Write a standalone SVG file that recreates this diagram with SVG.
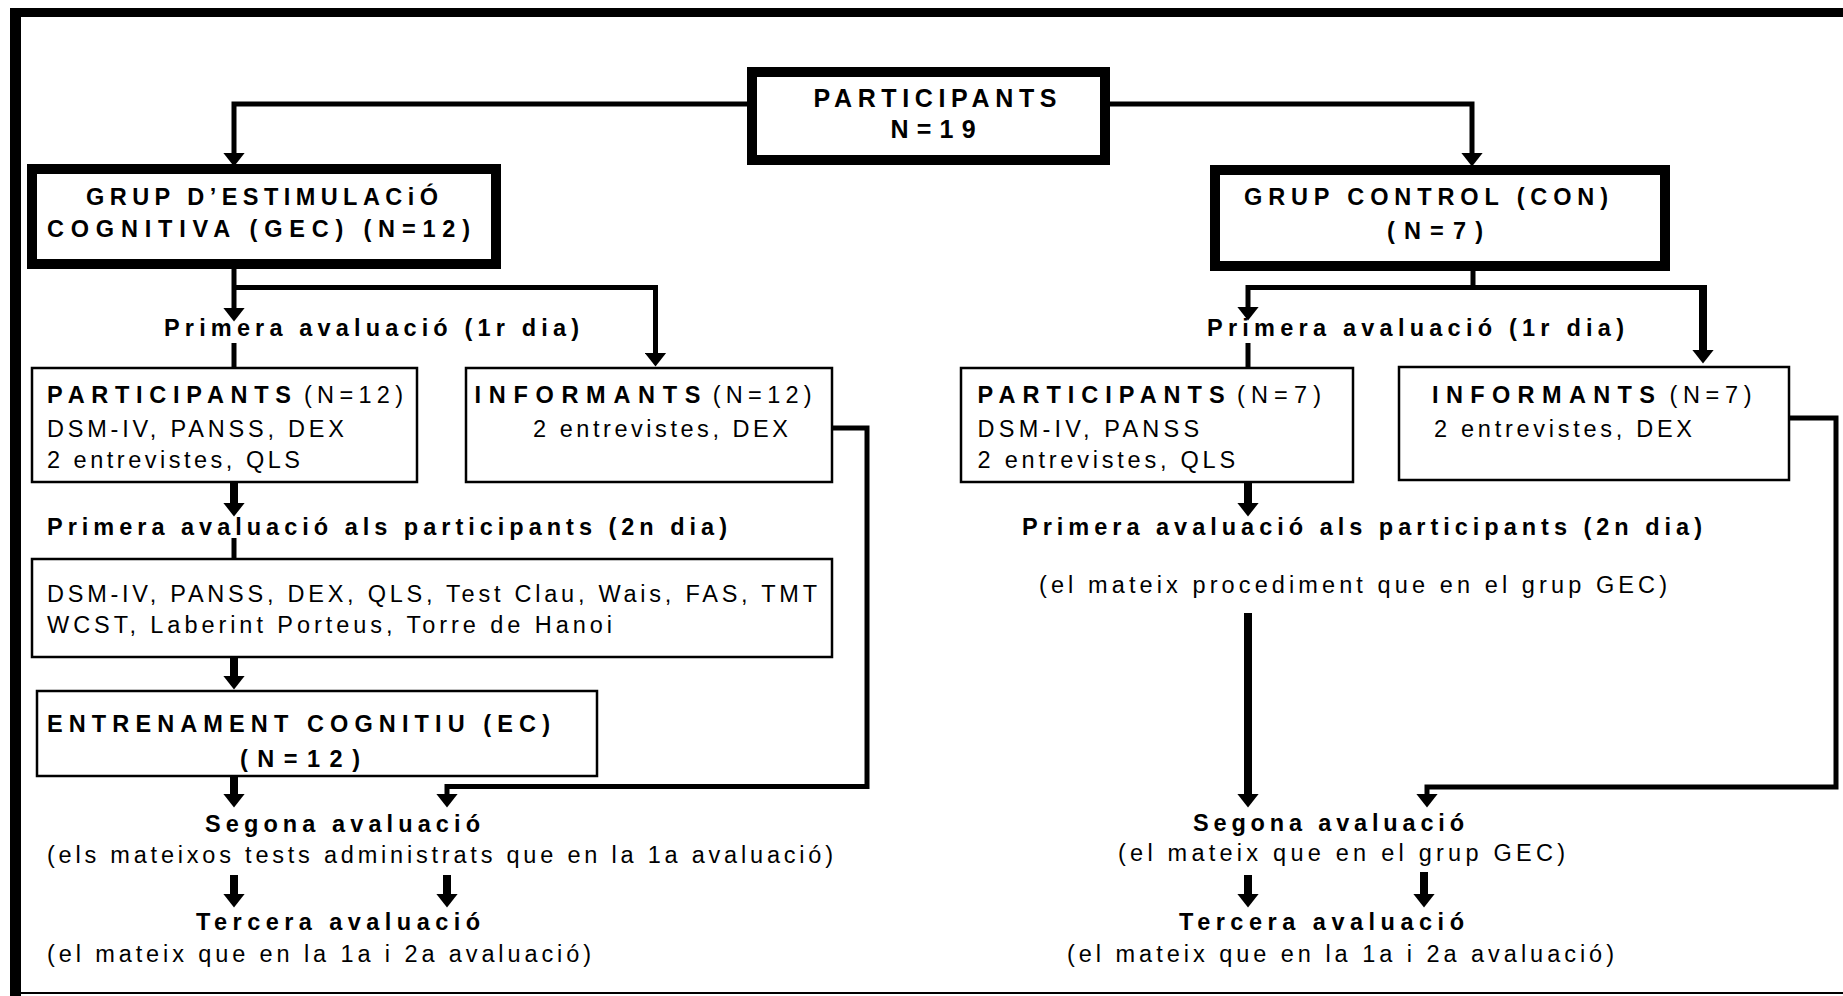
<svg xmlns="http://www.w3.org/2000/svg" width="1843" height="996" viewBox="0 0 1843 996">
<defs>
<style>
.t{font-family:"Liberation Sans",Arial,sans-serif;font-size:23.5px;fill:#000}
.b{font-weight:bold}
.big{font-size:25px}
.thick{fill:#fff;stroke:#000;stroke-width:10}
.thin{fill:#fff;stroke:#000;stroke-width:2.5}
.c{fill:none;stroke:#000;stroke-width:5}
.s{fill:none;stroke:#000;stroke-width:8}
</style>
<marker id="ah" markerUnits="userSpaceOnUse" markerWidth="14" markerHeight="22" viewBox="0 0 14 22" refX="0.5" refY="11" orient="auto"><path d="M0,0 L14,11 L0,22 z" fill="#000"/></marker>
</defs>
<rect width="1843" height="996" fill="#fff"/>
<g id="frame">
<rect x="10" y="8" width="11" height="988" fill="#000"/>
<rect x="10" y="8" width="1833" height="9" fill="#000"/>
<rect x="20" y="992" width="1823" height="2" fill="#000"/>
</g>
<g id="connectors">
<path class="c" d="M747,104 H234 V153" marker-end="url(#ah)"/>
<path class="c" d="M1110,104 H1472 V153" marker-end="url(#ah)"/>
<path class="c" d="M234,269 V308" marker-end="url(#ah)"/>
<path class="c" d="M234,287.5 H655.5 V353" marker-end="url(#ah)"/>
<path class="c" d="M234,343 V368"/>
<path class="s" d="M234,483 V503" marker-end="url(#ah)"/>
<path class="c" d="M234,538 V559"/>
<path class="s" d="M234,658 V676" marker-end="url(#ah)"/>
<path class="s" d="M234,777 V794" marker-end="url(#ah)"/>
<path class="c" d="M833,428 H867 V786.5 H447 V794" marker-end="url(#ah)"/>
<path class="s" d="M234,875 V894" marker-end="url(#ah)"/>
<path class="s" d="M447,875 V894" marker-end="url(#ah)"/>
<path class="c" d="M1473,271 V287.5"/>
<path class="c" d="M1248,287.5 H1703"/>
<path class="c" d="M1248,285 V307" marker-end="url(#ah)"/>
<path class="s" d="M1703,285 V350" marker-end="url(#ah)"/>
<path class="c" d="M1248,343 V368"/>
<path class="s" d="M1248,483 V503" marker-end="url(#ah)"/>
<path class="s" d="M1248,613 V794" marker-end="url(#ah)"/>
<path class="c" d="M1789,418 H1836 V787 H1427 V794" marker-end="url(#ah)"/>
<path class="s" d="M1248,875 V894" marker-end="url(#ah)"/>
<path class="s" d="M1424,872 V894" marker-end="url(#ah)"/>
</g>
<g id="participants">
<rect class="thick" x="752" y="72" width="353" height="88"/>
<text class="t b big" x="813.5" y="107" textLength="243" lengthAdjust="spacing">PARTICIPANTS</text>
<text class="t b big" x="890.6" y="138" textLength="85" lengthAdjust="spacing">N=19</text>
</g>
<g id="gec">
<rect class="thick" x="32" y="169" width="464" height="95"/>
<text class="t b" x="86" y="205" textLength="352" lengthAdjust="spacing">GRUP D’ESTIMULACiÓ</text>
<text class="t b" x="47" y="237" textLength="423" lengthAdjust="spacing">COGNITIVA (GEC) (N=12)</text>
</g>
<g id="con">
<rect class="thick" x="1215" y="170" width="450" height="96"/>
<text class="t b" x="1244" y="205" textLength="364" lengthAdjust="spacing">GRUP CONTROL (CON)</text>
<text class="t b" x="1387" y="239" textLength="96" lengthAdjust="spacing">(N=7)</text>
</g>
<g id="gec-primera">
<text class="t b" x="164" y="336" textLength="415" lengthAdjust="spacing">Primera avaluació (1r dia)</text>
</g>
<g id="con-primera">
<text class="t b" x="1207" y="336" textLength="417" lengthAdjust="spacing">Primera avaluació (1r dia)</text>
</g>
<g id="gec-participants">
<rect class="thin" x="32" y="368" width="385" height="114"/>
<text class="t b" x="47" y="403" textLength="244" lengthAdjust="spacing">PARTICIPANTS</text>
<text class="t" x="304" y="403" textLength="99" lengthAdjust="spacing">(N=12)</text>
<text class="t" x="47" y="437" textLength="297" lengthAdjust="spacing">DSM-IV, PANSS, DEX</text>
<text class="t" x="47" y="468" textLength="253" lengthAdjust="spacing">2 entrevistes, QLS</text>
</g>
<g id="gec-informants">
<rect class="thin" x="466" y="368" width="366" height="114"/>
<text class="t b" x="474.5" y="403" textLength="226" lengthAdjust="spacing">INFORMANTS</text>
<text class="t" x="712.7" y="403" textLength="99" lengthAdjust="spacing">(N=12)</text>
<text class="t" x="533" y="437" textLength="255" lengthAdjust="spacing">2 entrevistes, DEX</text>
</g>
<g id="con-participants">
<rect class="thin" x="961" y="368" width="392" height="114"/>
<text class="t b" x="977.6" y="403" textLength="247" lengthAdjust="spacing">PARTICIPANTS</text>
<text class="t" x="1237" y="403" textLength="84" lengthAdjust="spacing">(N=7)</text>
<text class="t" x="977.6" y="437" textLength="221.5" lengthAdjust="spacing">DSM-IV, PANSS</text>
<text class="t" x="977.6" y="468" textLength="257.5" lengthAdjust="spacing">2 entrevistes, QLS</text>
</g>
<g id="con-informants">
<rect class="thin" x="1399" y="367" width="390" height="113"/>
<text class="t b" x="1432" y="403" textLength="223" lengthAdjust="spacing">INFORMANTS</text>
<text class="t" x="1669.5" y="403" textLength="82" lengthAdjust="spacing">(N=7)</text>
<text class="t" x="1434" y="437" textLength="258" lengthAdjust="spacing">2 entrevistes, DEX</text>
</g>
<g id="gec-segona-dia">
<text class="t b" x="47" y="535" textLength="680" lengthAdjust="spacing">Primera avaluació als participants (2n dia)</text>
</g>
<g id="con-segona-dia">
<text class="t b" x="1022" y="535" textLength="680" lengthAdjust="spacing">Primera avaluació als participants (2n dia)</text>
<text class="t" x="1039" y="593" textLength="628" lengthAdjust="spacing">(el mateix procediment que en el grup GEC)</text>
</g>
<g id="gec-tests">
<rect class="thin" x="32" y="559" width="800" height="98"/>
<text class="t" x="47" y="602" textLength="770" lengthAdjust="spacing">DSM-IV, PANSS, DEX, QLS, Test Clau, Wais, FAS, TMT</text>
<text class="t" x="47" y="633" textLength="565" lengthAdjust="spacing">WCST, Laberint Porteus, Torre de Hanoi</text>
</g>
<g id="entrenament">
<rect class="thin" x="37" y="691" width="560" height="85"/>
<text class="t b" x="47" y="732" textLength="503" lengthAdjust="spacing">ENTRENAMENT COGNITIU (EC)</text>
<text class="t b" x="240" y="767" textLength="120" lengthAdjust="spacing">(N=12)</text>
</g>
<g id="gec-segona">
<text class="t b" x="205" y="832" textLength="275" lengthAdjust="spacing">Segona avaluació</text>
<text class="t" x="47" y="863" textLength="786" lengthAdjust="spacing">(els mateixos tests administrats que en la 1a avaluació)</text>
</g>
<g id="gec-tercera">
<text class="t b" x="196" y="930" textLength="284" lengthAdjust="spacing">Tercera avaluació</text>
<text class="t" x="47" y="962" textLength="544" lengthAdjust="spacing">(el mateix que en la 1a i 2a avaluació)</text>
</g>
<g id="con-segona">
<text class="t b" x="1193" y="831" textLength="271" lengthAdjust="spacing">Segona avaluació</text>
<text class="t" x="1118" y="861" textLength="447" lengthAdjust="spacing">(el mateix que en el grup GEC)</text>
</g>
<g id="con-tercera">
<text class="t b" x="1179" y="930" textLength="285" lengthAdjust="spacing">Tercera avaluació</text>
<text class="t" x="1067" y="962" textLength="547" lengthAdjust="spacing">(el mateix que en la 1a i 2a avaluació)</text>
</g>
</svg>
